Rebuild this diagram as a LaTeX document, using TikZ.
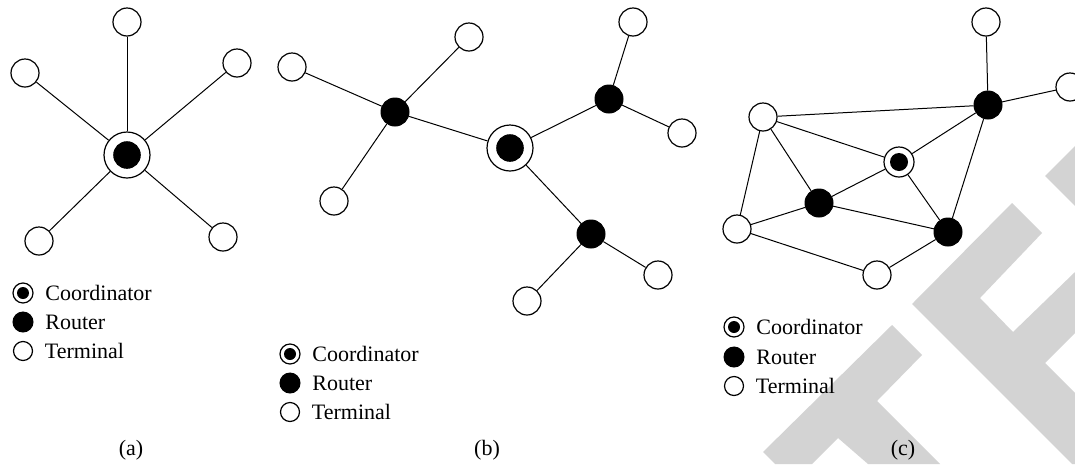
\documentclass[tikz,border=0pt]{standalone}
\usepackage{fontspec}
\setmainfont{Liberation Serif}
\usetikzlibrary{positioning}
\definecolor{wmgray}{RGB}{211,211,211}

\begin{document}
\begin{tikzpicture}[x=1pt,y=-1pt,line width=1pt,
    every node/.style={font=\fontsize{22}{26}\selectfont}]
    \tikzset{terminal/.style = {circle, draw, fill=white, line width=1.2pt,
        inner sep=0pt, minimum size=#1},
      terminal/.default = 28pt,
      router/.style = {circle, draw, fill=black, inner sep=0pt, minimum size=#1},
      router/.default = 28pt,
      coordinator/.style = {circle, draw, fill=white, line width=1.2pt,
        inner sep=0pt, minimum size=#1,
        path picture={\fill[black] (path picture bounding box.center) circle ({0.3*#1});}},
      coordinator/.default = 46pt,
      legend/.style = {right=8pt of #1}}
    \useasboundingbox (0,0) rectangle (1075,464);

    % grey stripes in the lower right corner
    \fill[wmgray] (763,452) -- (892,325) -- (922,355) -- (877,401) -- (940,464)
      -- (868,464) -- (838,438) -- (812,464) -- (775,464) -- cycle;
    \fill[wmgray] (912,304) -- (1012,203) -- (1042,233) -- (980,298) -- (1013,332)
      -- (1075,272) -- (1075,333) -- (1045,363) -- (1075,393) -- (1075,464)
      -- (1072,464) -- cycle;
    \fill[wmgray] (1045,176) -- (1075,146) -- (1075,206) -- cycle;

    % (a) star
    \node[coordinator] (A0) at (127,155) {};
    \node[terminal] (A1) at (127,22) {};
    \node[terminal] (A2) at (25,73) {};
    \node[terminal] (A3) at (237,63) {};
    \node[terminal] (A4) at (39,241) {};
    \node[terminal] (A5) at (223,237) {};
    \draw (A0) -- (A1);
    \draw (A0) -- (A2);
    \draw (A0) -- (A3);
    \draw (A0) -- (A4);
    \draw (A0) -- (A5);

    % (b) tree
    \node[coordinator] (B0) at (510,148) {};
    \node[router] (B1) at (395,112) {};
    \node[router] (B2) at (609,99) {};
    \node[router] (B3) at (591,234) {};
    \node[terminal] (B4) at (292,67) {};
    \node[terminal] (B5) at (469,37) {};
    \node[terminal] (B6) at (334,201) {};
    \node[terminal] (B7) at (633,22) {};
    \node[terminal] (B8) at (682,133) {};
    \node[terminal] (B9) at (658,275) {};
    \node[terminal] (B10) at (527,301) {};
    \draw (B0) -- (B1);
    \draw (B0) -- (B2);
    \draw (B0) -- (B3);
    \draw (B1) -- (B4);
    \draw (B1) -- (B5);
    \draw (B1) -- (B6);
    \draw (B2) -- (B7);
    \draw (B2) -- (B8);
    \draw (B3) -- (B9);
    \draw (B3) -- (B10);

    % (c) mesh
    \node[coordinator=30pt] (C0) at (899,162) {};
    \node[router] (C1) at (988,105) {};
    \node[router] (C2) at (819,203) {};
    \node[router] (C3) at (948,232) {};
    \node[terminal] (C4) at (986,22) {};
    \node[terminal] (C5) at (1070,87) {};
    \node[terminal] (C6) at (763,117) {};
    \node[terminal] (C7) at (737,229) {};
    \node[terminal] (C8) at (877,275) {};
    \draw (C4) -- (C1);
    \draw (C1) -- (C5);
    \draw (C6) -- (C1);
    \draw (C6) -- (C0);
    \draw (C6) -- (C2);
    \draw (C6) -- (C7);
    \draw (C0) -- (C1);
    \draw (C0) -- (C2);
    \draw (C0) -- (C3);
    \draw (C1) -- (C3);
    \draw (C2) -- (C7);
    \draw (C2) -- (C3);
    \draw (C7) -- (C8);
    \draw (C8) -- (C3);

    % legends
    \node[coordinator=20pt] (LA1) at (23,293) {};
    \node[router=20pt] (LA2) at (23,322) {};
    \node[terminal=19pt] (LA3) at (23,351) {};
    \node[legend=LA1] {Coordinator};
    \node[legend=LA2] {Router};
    \node[legend=LA3] {Terminal};

    \node[coordinator=20pt] (LB1) at (290,354) {};
    \node[router=20pt] (LB2) at (290,383) {};
    \node[terminal=19pt] (LB3) at (290,412) {};
    \node[legend=LB1] {Coordinator};
    \node[legend=LB2] {Router};
    \node[legend=LB3] {Terminal};

    \node[coordinator=20pt] (LC1) at (734,327) {};
    \node[router=20pt] (LC2) at (734,357) {};
    \node[terminal=19pt] (LC3) at (734,386) {};
    \node[legend=LC1] {Coordinator};
    \node[legend=LC2] {Router};
    \node[legend=LC3] {Terminal};

    % captions
    \node (capA) at (131,450) {(a)};
    \node (capB) at (487,450) {(b)};
    \node (capC) at (903,450) {(c)};
\end{tikzpicture}
\end{document}
